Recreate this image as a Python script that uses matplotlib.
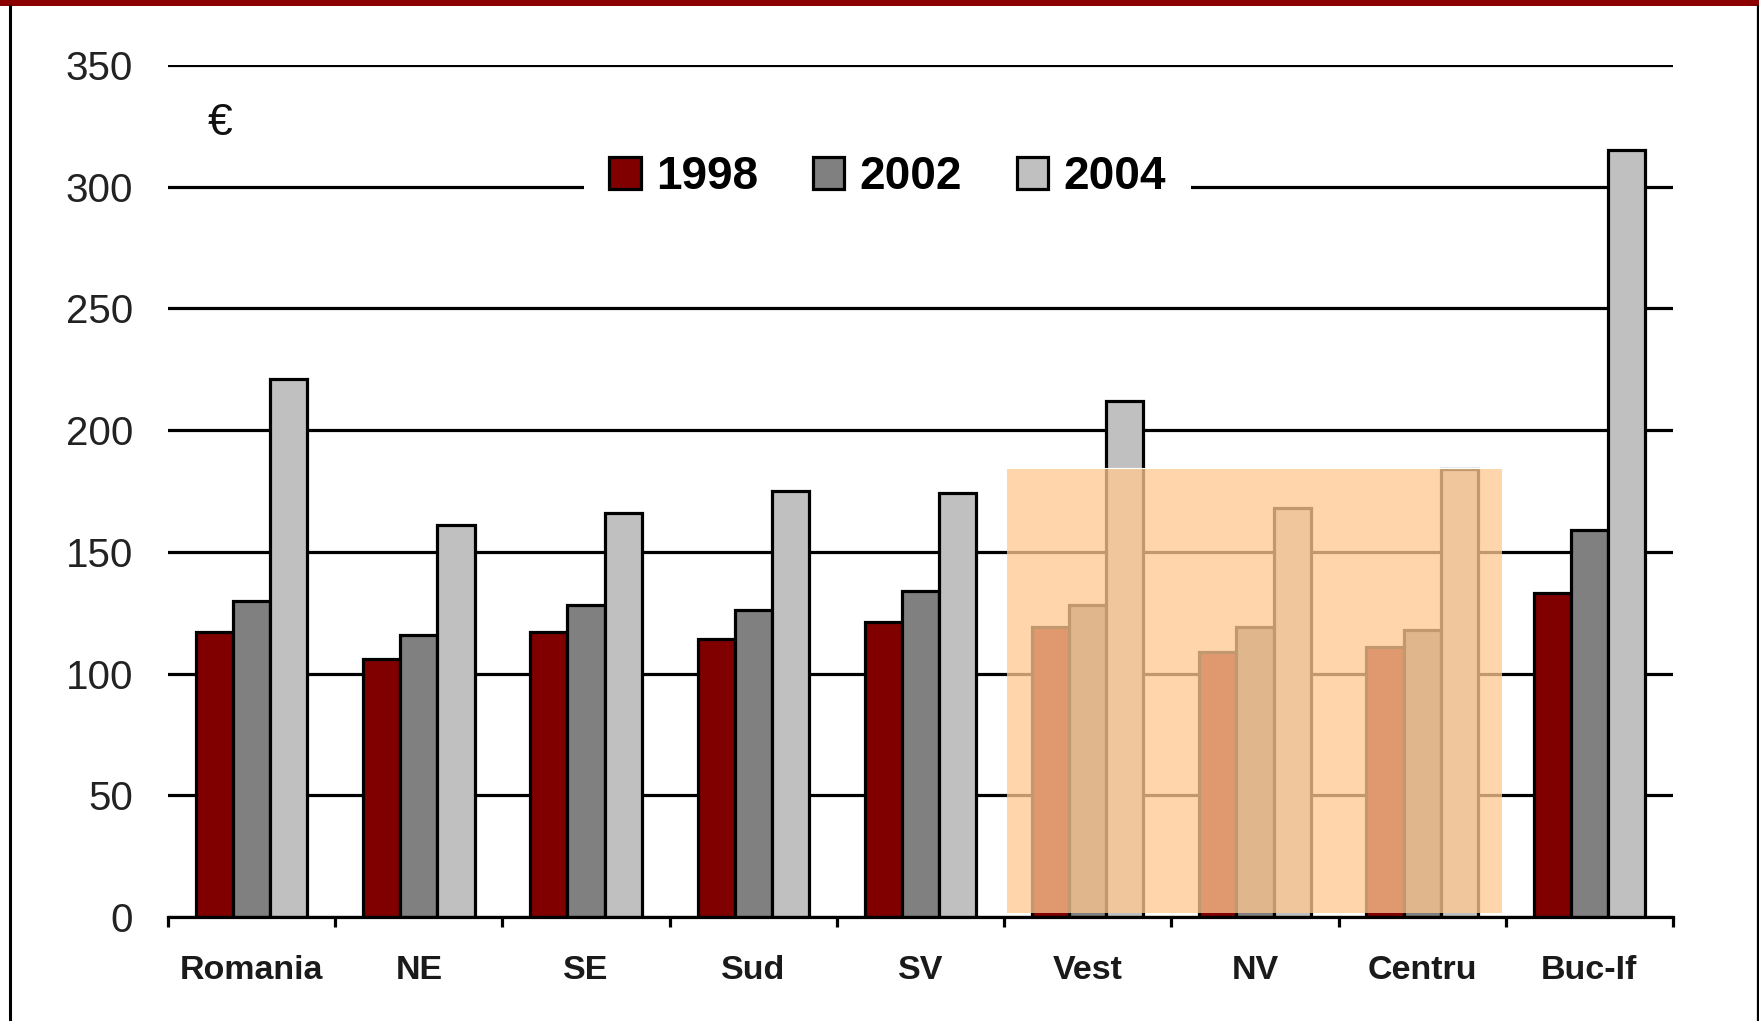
import matplotlib
matplotlib.use("Agg")
import matplotlib.pyplot as plt
from matplotlib.patches import Rectangle
from matplotlib.lines import Line2D
import numpy as np

regions = ['Romania', 'NE', 'SE', 'Sud', 'SV', 'Vest', 'NV', 'Centru', 'Buc-If']
years = ['1998', '2002', '2004']
v1998 = [117, 106, 117, 114, 121, 119, 109, 111, 133]
v2002 = [130, 116, 128, 126, 134, 128, 119, 118, 159]
v2004 = [221, 161, 166, 175, 174, 212, 168, 184, 315]
yticks = [0, 50, 100, 150, 200, 250, 300, 350]
colors = ['#800000', '#808080', '#C0C0C0']

plt.rcParams['font.family'] = ['Liberation Sans', 'DejaVu Sans']

W, H = 1759, 1021
fig = plt.figure(figsize=(W / 100, H / 100), dpi=100)
fig.patch.set_facecolor('white')
ax = fig.add_axes([168 / W, (H - 917) / H, (1673 - 168) / W, (917 - 65) / H])

x = np.arange(len(regions))
bw = 0.222
series = [v1998, v2002, v2004]
for i, (vals, c, lab) in enumerate(zip(series, colors, years)):
    ax.bar(x + (i - 1) * bw, vals, width=bw, color=c, edgecolor='black',
           linewidth=2.3, label=lab, zorder=3)

ax.set_xlim(-0.5, len(regions) - 0.5)
ax.set_ylim(0, 350)
ax.set_yticks(yticks)
ax.set_yticklabels([str(v) for v in yticks], fontsize=29, color='#222222')
ax.tick_params(axis='y', length=0, pad=25)
ax.yaxis.grid(True, color='black', linewidth=2.3)
ax.set_axisbelow(True)

ax.set_xticks(x)
ax.set_xticklabels(regions, fontsize=24.5, fontweight='bold', color='#1a1a1a')
ax.set_xticks(np.arange(len(regions) + 1) - 0.5, minor=True)
ax.tick_params(axis='x', which='major', length=0, pad=27)
ax.tick_params(axis='x', which='minor', length=7.5, width=2.3, direction='out', color='black')

for s in ['left', 'right', 'top']:
    ax.spines[s].set_visible(False)
ax.spines['bottom'].set_linewidth(2.3)
ax.spines['bottom'].set_color('black')
ax.spines['bottom'].set_zorder(4)

# highlight overlay
ax.add_patch(Rectangle((4.52, 1.5), 7.476 - 4.52, 184.3 - 1.5, facecolor='#FFC992',
                       edgecolor='none', alpha=0.765, zorder=5))
ax.plot([4.52, 7.476], [184.5, 184.5], color='white', linewidth=0.8, zorder=5)

ax.text(-0.19, 326, '€', fontsize=32, ha='center', va='center', color='#111111')

leg = ax.legend(loc='center', bbox_to_anchor=(0.478, 0.8685), ncol=3,
                prop={'weight': 'bold', 'size': 33},
                frameon=True, fancybox=False, framealpha=1, edgecolor='none',
                handlelength=0.68, handleheight=0.68, handletextpad=0.33,
                columnspacing=1.2, borderpad=0.55, borderaxespad=0)
leg.get_frame().set_facecolor('white')
leg.get_frame().set_linewidth(0)
leg.set_zorder(10)

# figure frame
fig.add_artist(Rectangle((0, (H - 6) / H), 1, 6 / H, transform=fig.transFigure,
                         facecolor='#8B0000', edgecolor='none'))
fig.add_artist(Line2D([9.5 / W, 9.5 / W], [0, (H - 6) / H], transform=fig.transFigure,
                      color='black', linewidth=2.2))
fig.add_artist(Line2D([1757.5 / W, 1757.5 / W], [0, (H - 6) / H], transform=fig.transFigure,
                      color='black', linewidth=1.6))

fig.savefig('out.png', dpi=100)
